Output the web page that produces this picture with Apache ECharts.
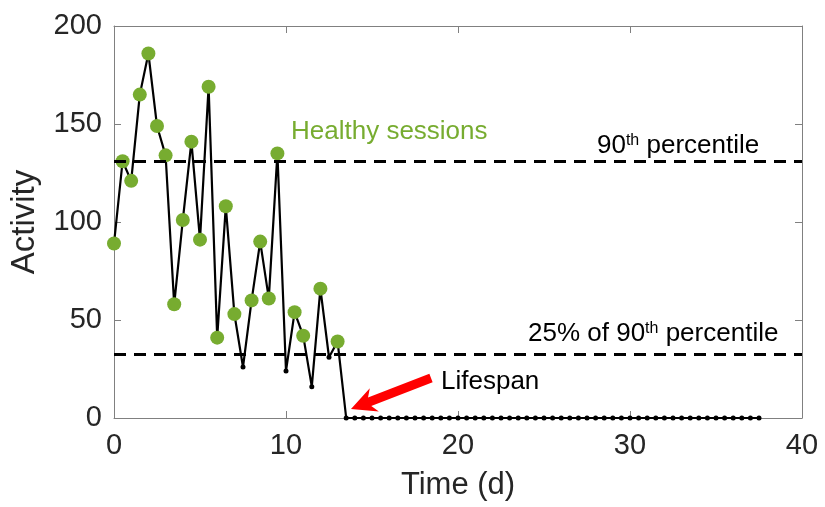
<!DOCTYPE html>
<html><head><meta charset="utf-8">
<script src="https://cdn.jsdelivr.net/npm/echarts@6/dist/echarts.min.js"></script>
<style>html,body{margin:0;padding:0;background:#fff}#c{width:825px;height:507px}</style>
</head><body><div id="c"></div>
<script>
// ---- data ----
const times = [0,0.5,1,1.5,2,2.5,3,3.5,4,4.5,5,5.5,6,6.5,7,7.5,8,8.5,9,9.5,
  10,10.5,11,11.5,12,12.5,13,13.5,14,14.5,15,15.5,16,16.5,17,17.5,18,18.5,19,19.5,
  20,20.5,21,21.5,22,22.5,23,23.5,24,24.5,25,25.5,26,26.5,27,27.5,28,28.5,29,29.5,
  30,30.5,31,31.5,32,32.5,33,33.5,34,34.5,35,35.5,36,36.5,37,37.5];
const activity = [89,131,121,165,186,149,134,58,101,141,91,169,41,108,53,26,60,90,61,135,
  24,54,42,16,66,31,39,0,0,0,0,0,0,0,0,0,0,0,0,0,
  0,0,0,0,0,0,0,0,0,0,0,0,0,0,0,0,0,0,0,0,
  0,0,0,0,0,0,0,0,0,0,0,0,0,0,0,0];
const percentile90 = 131;
const quarterOf90 = 32.75;
const xTicks = [0,10,20,30,40];
const yTicks = [0,50,100,150,200];

// ---- styles ----
const FONT = "'Liberation Sans', Arial, Helvetica, sans-serif";
const GREEN = '#77AC30';
const AXIS_GRAY = '#808080';
const LABEL = '#262626';

const allPts = times.map((t, i) => [t, activity[i]]);
const healthy = allPts.filter(p => p[1] > quarterOf90);

const chart = echarts.init(document.getElementById('c'), null, {renderer: 'canvas'});

function frameAxis(pos, isX, showLabel) {
  const ticks = isX ? xTicks : yTicks;
  return {
    type: 'value', position: pos, gridIndex: 0,
    min: ticks[0], max: ticks[ticks.length - 1], interval: ticks[1] - ticks[0],
    axisLine: {show: true, onZero: false, lineStyle: {color: AXIS_GRAY, width: 1}},
    axisTick: {show: true, inside: true, length: 7, lineStyle: {color: AXIS_GRAY, width: 1}},
    splitLine: {show: false},
    axisLabel: {show: showLabel, color: LABEL, fontSize: 29, fontFamily: FONT, margin: isX ? 13 : 12}
  };
}

const xMain = frameAxis('bottom', true, true);
xMain.name = 'Time (d)';
xMain.nameLocation = 'middle';
xMain.nameGap = 52;
xMain.nameTextStyle = {color: LABEL, fontSize: 31, fontFamily: FONT};
const yMain = frameAxis('left', false, true);
yMain.name = 'Activity';
yMain.nameLocation = 'middle';
yMain.nameGap = 73;
yMain.nameRotate = 90;
yMain.nameTextStyle = {color: LABEL, fontSize: 33, fontFamily: FONT};

// arrow polygon
const tip = [351, 409], tail = [431, 378];
const dx = tip[0] - tail[0], dy = tip[1] - tail[1];
const L = Math.hypot(dx, dy);
const u = [dx / L, dy / L], n = [-u[1], u[0]];
const headLen = 25, notch = 20, headHalf = 12.5, shaftHalf = 4.5;
const P = (base, along, side) => [base[0] + u[0] * along + n[0] * side, base[1] + u[1] * along + n[1] * side];
const arrowPts = [
  P(tail, 0, shaftHalf), P(tip, -notch, shaftHalf), P(tip, -headLen, headHalf), tip.slice(),
  P(tip, -headLen, -headHalf), P(tip, -notch, -shaftHalf), P(tail, 0, -shaftHalf)
];

const annRich = {
  b: {fontSize: 26, fontFamily: FONT, color: '#000'},
  s: {fontSize: 16, fontFamily: FONT, color: '#000', verticalAlign: 'top'}
};

chart.setOption({
  animation: false,
  backgroundColor: '#fff',
  grid: {left: 112, right: 23, top: 26, bottom: 89, containLabel: false},
  xAxis: [xMain, frameAxis('top', true, false)],
  yAxis: [yMain, frameAxis('right', false, false)],
  series: [
    {
      type: 'line', xAxisIndex: 0, yAxisIndex: 0,
      data: allPts, symbol: 'circle', symbolSize: 5, showAllSymbol: true,
      itemStyle: {color: '#000'}, lineStyle: {color: '#000', width: 2.2},
      z: 3,
      markLine: {
        silent: true, symbol: 'none', label: {show: false},
        lineStyle: {color: '#000', width: 3, type: [12, 8]},
        data: [{yAxis: percentile90}, {yAxis: quarterOf90}]
      }
    },
    {
      type: 'scatter', xAxisIndex: 0, yAxisIndex: 0,
      data: healthy, symbol: 'circle', symbolSize: 14,
      itemStyle: {color: GREEN, opacity: 1}, z: 4
    }
  ],
  graphic: [
    {type: 'text', x: 291, y: 132, z: 10, style: {text: 'Healthy sessions', fill: GREEN, fontSize: 26, fontFamily: FONT, align: 'left', verticalAlign: 'middle'}},
    {type: 'text', x: 597, y: 146, z: 10, style: {text: '{b|90}{s|th}{b| percentile}', rich: annRich, align: 'left', verticalAlign: 'middle'}},
    {type: 'text', x: 528, y: 334, z: 10, style: {text: '{b|25% of 90}{s|th}{b| percentile}', rich: annRich, align: 'left', verticalAlign: 'middle'}},
    {type: 'text', x: 441, y: 382, z: 10, style: {text: 'Lifespan', fill: '#000', fontSize: 26, fontFamily: FONT, align: 'left', verticalAlign: 'middle'}},
    {type: 'polygon', z: 10, shape: {points: arrowPts}, style: {fill: '#FF0000', stroke: null}}
  ]
});
</script></body></html>
